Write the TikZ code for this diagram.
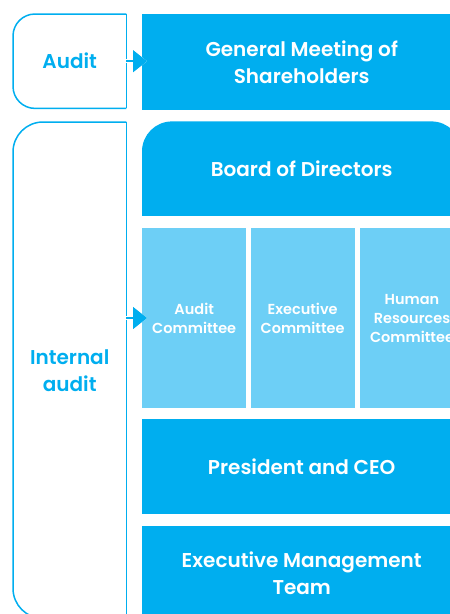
\documentclass[tikz,border=0pt]{standalone}
\usepackage{fontspec}
\setsansfont{Poppins}[BoldFont=Poppins SemiBold]
\usetikzlibrary{arrows.meta, positioning}

\definecolor{orgblue}{HTML}{00AEEF}
\definecolor{orglight}{HTML}{6DCFF6}

\begin{document}
\begin{tikzpicture}[x=1pt, y=-1pt, node distance=11pt,
        box/.style={inner sep=0pt, minimum width=319pt, align=center, text=white,
            font=\sffamily\bfseries\fontsize{20}{27}\selectfont},
        bluebox/.style={box, fill=orgblue},
        combox/.style={box, fill=orglight, minimum width=104pt, minimum height=180pt,
            font=\sffamily\bfseries\fontsize{14.5}{19}\selectfont},
        outbox/.style={inner sep=0pt, minimum width=113pt, align=center, text=orgblue,
            font=\sffamily\bfseries\fontsize{20}{27}\selectfont},
        outl/.style={draw=orgblue, line width=1.5pt},
        feed/.style={outl, -{Triangle[length=14pt, width=22pt]}, shorten >=-5pt,
            preaction={draw=white, line width=3.5pt, -{Triangle[length=14pt, width=22pt]}, shorten >=-5pt}}]
        \useasboundingbox (0,0) rectangle (450,614);
        % Governance chart
        \node[bluebox, minimum height=96pt, anchor=north west] (gm) at (142,14) {General Meeting of\\Shareholders};
        \node[box, minimum height=94pt, below=of gm] (board) {};
        \fill[orgblue] (board.south west) [rounded corners=30pt] -- (board.north west)
            -- (board.north east) [rounded corners=12pt] -- (board.south east);
        \node[box] at (board) {Board of Directors};
        \node[combox, below=12pt of board.south west, anchor=north west] (acom) {Audit\\Committee};
        \node[combox, right=4pt of acom] (ecom) {Executive\\Committee};
        \node[combox, right=5pt of ecom] (hcom) {Human\\Resources\\Committee};
        \node[bluebox, minimum height=95pt, below=of acom.south west, anchor=north west] (ceo) {President and CEO};
        \node[bluebox, minimum height=94pt, below=of ceo] (emt) {Executive Management\\Team};

        % audit side
        \node[outbox, minimum height=94pt, anchor=north west] (audit) at (13,14) {Audit};
        \node[outbox, minimum height=496pt, anchor=north west] (intl) at (13,122) {Internal\\audit};
        \draw[outl, rounded corners=22pt] (audit.north east) -- (audit.north west)
            -- (audit.south west) -- (audit.south east);
        \draw[outl] (audit.north east) -- (audit.south east);
        \draw[outl, rounded corners=30pt] (intl.north east) -- (intl.north west)
            -- (intl.south west) -- (intl.south east);
        \draw[outl] (intl.north east) -- (intl.south east);

        \draw[feed] (audit.east) -- (audit.east -| gm.west);
        \draw[feed] (acom.west -| intl.east) -- (acom.west);
    \end{tikzpicture}
\end{document}
